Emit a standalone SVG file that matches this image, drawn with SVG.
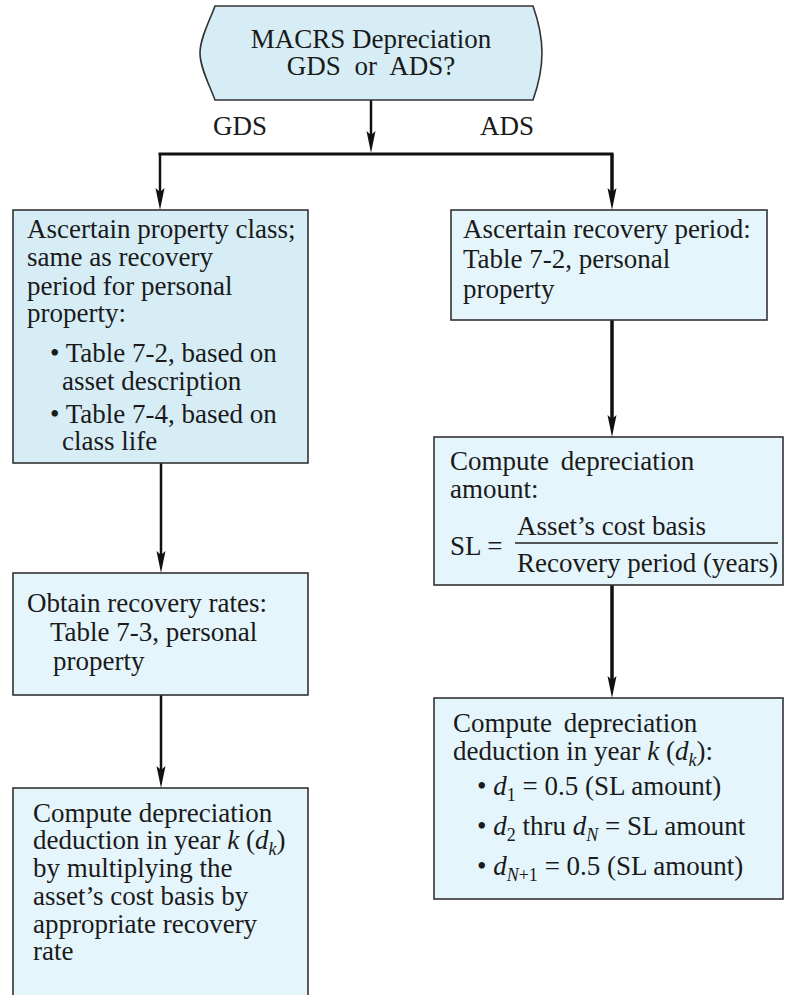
<svg xmlns="http://www.w3.org/2000/svg" width="790" height="995" viewBox="0 0 790 995">
<style>
  text { font-family: "Liberation Serif", "Times New Roman", serif; font-size: 27px; fill: #1a1a1a; }
  .box { stroke: #333; stroke-width: 1.6; }
  .dark { fill: #d6edf6; }
  .light { fill: #e5f5fc; }
  .conn { fill: none; stroke: #111; }
  .it { font-style: italic; }
  .sub { font-size: 18px; font-style: italic; }
  .subn { font-size: 18px; font-style: normal; }
</style>
<defs>
  <marker id="arr" viewBox="0 0 22 10" markerWidth="22" markerHeight="10" refX="10" refY="5" orient="auto" markerUnits="userSpaceOnUse">
    <path d="M0,0.5 L22,5 L0,9.5 L4,5 Z" fill="#111"/>
  </marker>
</defs>
<rect width="790" height="995" fill="#fff"/>

<g id="connectors">
  <path class="conn" stroke-width="2.5" d="M371,100 V141" marker-end="url(#arr)"/>
  <path class="conn" stroke-width="3" d="M158.5,154 H613.5"/>
  <path class="conn" stroke-width="2.5" d="M160,154 V198" marker-end="url(#arr)"/>
  <path class="conn" stroke-width="3.5" d="M612,154 V198" marker-end="url(#arr)"/>
  <path class="conn" stroke-width="2.5" d="M161,463 V561" marker-end="url(#arr)"/>
  <path class="conn" stroke-width="2.5" d="M161,695 V776" marker-end="url(#arr)"/>
  <path class="conn" stroke-width="3.5" d="M612,320 V425" marker-end="url(#arr)"/>
  <path class="conn" stroke-width="3.5" d="M612,585 V686" marker-end="url(#arr)"/>
  <text x="213" y="135">GDS</text>
  <text x="480" y="135">ADS</text>
</g>

<g id="start">
  <path class="box dark" d="M215,6 H533 C538,20 542,38 542,53 C542,68 538,86 533,100 H215 C210,86 200,68 200,53 C200,38 210,20 215,6 Z"/>
  <text x="371" y="48" text-anchor="middle">MACRS Depreciation</text>
  <text x="371" y="75" text-anchor="middle" word-spacing="7">GDS or ADS?</text>
</g>

<g id="gds-class">
  <rect class="box dark" x="13" y="210" width="295" height="253"/>
  <text x="27" y="238">Ascertain property class;</text>
  <text x="27" y="266">same as recovery</text>
  <text x="27" y="295">period for personal</text>
  <text x="27" y="322">property:</text>
  <text x="50" y="362">• Table 7-2, based on</text>
  <text x="62" y="390">asset description</text>
  <text x="50" y="423">• Table 7-4, based on</text>
  <text x="62" y="450">class life</text>
</g>

<g id="gds-rates">
  <rect class="box light" x="13" y="573" width="295" height="122"/>
  <text x="27" y="612">Obtain recovery rates:</text>
  <text x="50" y="641">Table 7-3, personal</text>
  <text x="53" y="670">property</text>
</g>

<g id="gds-deduction">
  <rect class="box light" x="13" y="788" width="295" height="220"/>
  <text x="33" y="822">Compute depreciation</text>
  <text x="33" y="849">deduction in year <tspan class="it">k</tspan> (<tspan class="it">d</tspan><tspan class="sub" dy="6">k</tspan><tspan dy="-6">)</tspan></text>
  <text x="33" y="877">by multiplying the</text>
  <text x="33" y="905">asset’s cost basis by</text>
  <text x="33" y="933">appropriate recovery</text>
  <text x="33" y="960">rate</text>
</g>

<g id="ads-period">
  <rect class="box light" x="451" y="210" width="316" height="110"/>
  <text x="463" y="238">Ascertain recovery period:</text>
  <text x="463" y="268">Table 7-2, personal</text>
  <text x="463" y="298">property</text>
</g>

<g id="ads-amount">
  <rect class="box light" x="434" y="437" width="349" height="148"/>
  <text x="450" y="470" word-spacing="5">Compute depreciation</text>
  <text x="450" y="498">amount:</text>
  <text x="450" y="555">SL =</text>
  <text x="517" y="535">Asset’s cost basis</text>
  <line x1="515" y1="543" x2="778" y2="543" stroke="#222" stroke-width="1.5"/>
  <text x="517" y="572">Recovery period (years)</text>
</g>

<g id="ads-deduction">
  <rect class="box light" x="434" y="698" width="349" height="201"/>
  <text x="453" y="732" word-spacing="5">Compute depreciation</text>
  <text x="453" y="760">deduction in year <tspan class="it">k</tspan> (<tspan class="it">d</tspan><tspan class="sub" dy="6">k</tspan><tspan dy="-6">):</tspan></text>
  <text x="477" y="795">• <tspan class="it">d</tspan><tspan class="subn" dy="6">1</tspan><tspan dy="-6"> = 0.5 (SL amount)</tspan></text>
  <text x="477" y="835">• <tspan class="it">d</tspan><tspan class="subn" dy="6">2</tspan><tspan dy="-6"> thru </tspan><tspan class="it">d</tspan><tspan class="sub" dy="6">N</tspan><tspan dy="-6"> = SL amount</tspan></text>
  <text x="477" y="875">• <tspan class="it">d</tspan><tspan class="sub" dy="6">N</tspan><tspan class="subn">+1</tspan><tspan dy="-6"> = 0.5 (SL amount)</tspan></text>
</g>
</svg>
